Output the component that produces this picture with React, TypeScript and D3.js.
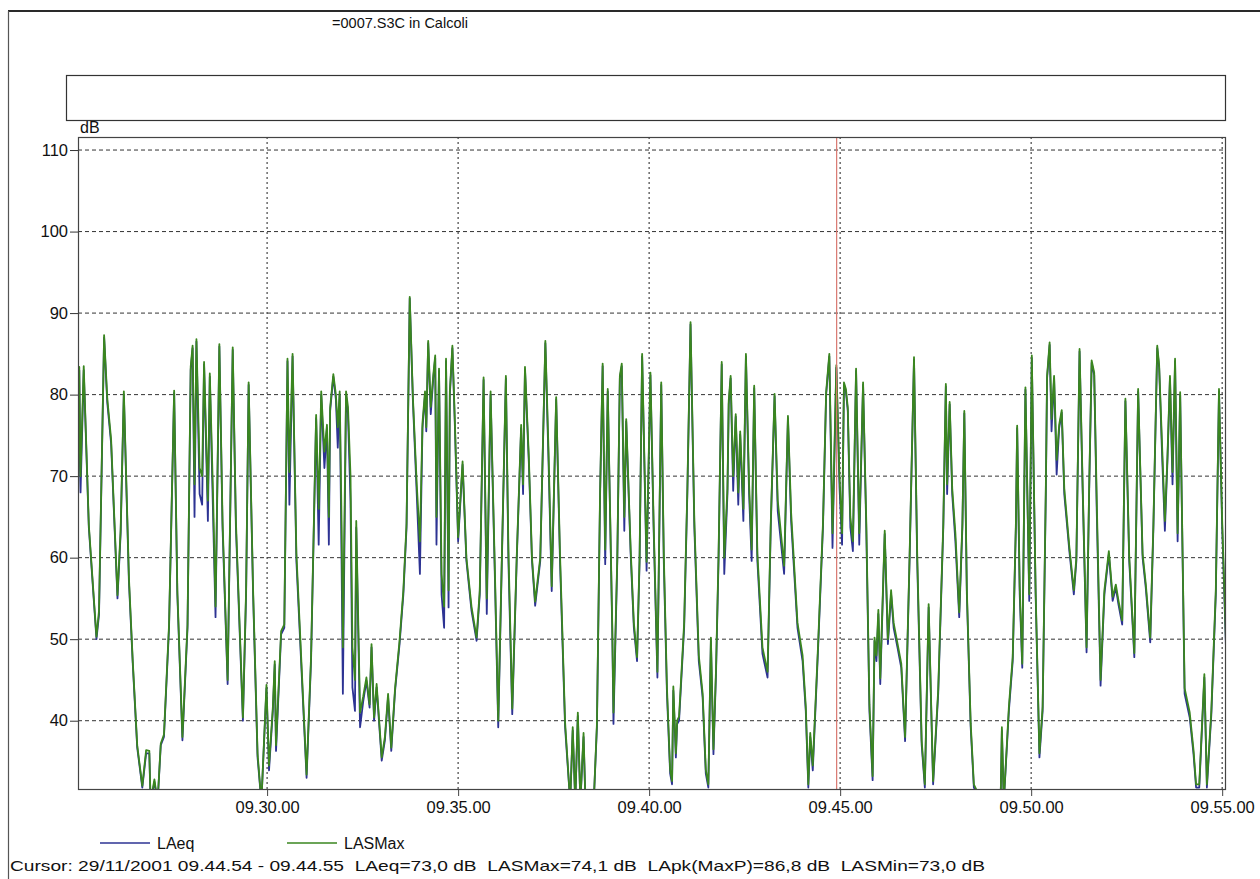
import React, { useEffect, useRef } from 'react';
import * as d3 from 'd3';

// seconds after 09.25.00 on 29/11/2001
const secs = [
  3, 5, 7, 12, 20, 32, 36, 44, 49, 55,
  65, 70, 75, 83, 89, 96, 104, 110, 115, 117,
  123, 128, 133, 138, 146, 154, 159, 167, 175, 180,
  183, 186, 189, 194, 198, 201, 207, 210, 215, 219,
  225, 230, 238, 246, 251, 262, 267, 271, 278, 285,
  291, 299, 303, 309, 312, 314, 322, 327, 332, 335,
  340, 346, 362, 369, 377, 381, 385, 390, 394, 397,
  399, 404, 408, 411, 414, 417, 419, 424, 427, 431,
  434, 438, 440, 446, 451, 456, 461, 464, 468, 472,
  480, 485, 490, 495, 501, 508, 514, 519, 524, 529,
  535, 540, 544, 548, 550, 553, 557, 561, 564, 566,
  570, 574, 578, 581, 585, 587, 591, 595, 600, 607,
  613, 621, 629, 634, 640, 645, 651, 658, 663, 671,
  675, 679, 685, 692, 699, 702, 705, 711, 716, 721,
  729, 737, 742, 747, 754, 760, 768, 776, 780, 784,
  788, 792, 797, 800, 813, 818, 823, 827, 831, 835,
  842, 844, 850, 854, 857, 861, 864, 871, 876, 881,
  885, 889, 896, 902, 907, 913, 919, 923, 928, 933,
  936, 938, 942, 944, 947, 955, 960, 965, 971, 978,
  984, 989, 993, 997, 1001, 1005, 1009, 1014, 1018, 1023,
  1025, 1028, 1032, 1036, 1040, 1043, 1048, 1052, 1057, 1061,
  1065, 1070, 1078, 1086, 1091, 1097, 1102, 1112, 1118, 1123,
  1133, 1141, 1146, 1150, 1153, 1157, 1165, 1173, 1178, 1183,
  1188, 1194, 1199, 1203, 1206, 1209, 1212, 1216, 1220, 1225,
  1230, 1236, 1241, 1246, 1251, 1254, 1257, 1260, 1263, 1270,
  1275, 1280, 1284, 1290, 1296, 1302, 1309, 1316, 1321, 1328,
  1333, 1339, 1346, 1354, 1362, 1366, 1368, 1372, 1376, 1381,
  1387, 1392, 1395, 1399, 1405, 1410, 1423, 1452, 1454, 1457,
  1465, 1471, 1476, 1478, 1482, 1486, 1491, 1497, 1501, 1507,
  1513, 1518, 1523, 1525, 1529, 1532, 1536, 1540, 1544, 1548,
  1552, 1560, 1567, 1571, 1576, 1581, 1587, 1591, 1595, 1599,
  1603, 1609, 1615, 1622, 1628, 1633, 1637, 1643, 1648, 1654,
  1662, 1668, 1675, 1680, 1687, 1692, 1698, 1701, 1706, 1710,
  1714, 1718, 1722, 1726, 1730, 1734, 1741, 1749, 1755, 1759,
  1764, 1772, 1776, 1783, 1790, 1795, 1800, 1805, 1811, 1813,
];

const laeq = [
  66, 83, 68, 83, 63.7, 50, 53, 87, 79, 74,
  55, 63, 80, 57, 47, 36.7, 31.8, 36, 36, 30,
  32.5, 30, 37, 38, 51.4, 80.2, 55.5, 37.6, 51.4, 83,
  85.7, 65, 86.5, 67.8, 66.5, 83.7, 64.5, 82.2, 65.7, 52.7,
  85.9, 63.7, 44.5, 85.5, 63.7, 40, 55.5, 81.2, 55.5, 35.5,
  30, 44, 33.9, 41.2, 46.9, 36.3, 50.6, 51.4, 84.1, 66.5,
  84.7, 59.6, 33, 47.3, 77.1, 61.6, 80, 71, 75.9, 61.6,
  78, 82.2, 79.4, 73.5, 80, 59.2, 43.3, 80, 77.6, 66.9,
  44.1, 41.2, 63.7, 39.2, 42.4, 44.9, 41.6, 49, 40, 44.1,
  35.1, 37.6, 42.9, 36.3, 43.7, 49.4, 55.5, 63.7, 91.8, 79.2,
  67.8, 58, 75.9, 80, 75.5, 86.3, 77.6, 82, 84.5, 61.6,
  82.9, 55.5, 51.4, 84.1, 53.9, 80, 85.7, 75.9, 62, 71.4,
  59.6, 53.5, 49.8, 55.5, 81.8, 53.1, 80, 56.7, 39.2, 67.8,
  82, 59.6, 40.8, 59.6, 75.9, 67.8, 83.1, 71.8, 59.6, 54.1,
  59.6, 86.3, 71.8, 55.9, 79.4, 59.6, 39.2, 30, 38.8, 30,
  40.6, 30, 38, 30, 30, 39.2, 67.8, 83.5, 59.2, 80.4,
  51.4, 39.6, 59.6, 82, 83.5, 63.3, 76.7, 60.4, 51.4, 47.3,
  59.6, 84.7, 58.4, 82.4, 63.7, 45.3, 81.2, 59.6, 43.3, 33.5,
  32.2, 43.7, 35.5, 39.6, 40, 51.4, 67.8, 88.6, 63.7, 47.3,
  42.9, 33.5, 31.8, 49.8, 35.9, 45.7, 59.6, 83.7, 58, 67.8,
  78.8, 82, 68.2, 77.3, 66.5, 75.1, 64.5, 84.7, 67.8, 59.6,
  80.8, 59.6, 48.2, 45.3, 63.7, 79.8, 65.7, 58, 77.1, 64.5,
  51.4, 47.3, 41.2, 31.8, 38, 33.9, 48.2, 63.7, 80, 84.7,
  61.2, 83.3, 68.6, 61.6, 81.2, 80.4, 78, 63.7, 60.8, 82.9,
  61.6, 81.2, 63.7, 41.2, 32.7, 49.8, 47.3, 53.1, 44.5, 62.9,
  49.4, 55.5, 51.4, 49, 46.5, 37.5, 59.6, 84.3, 59.6, 37.1,
  31.8, 53.9, 32.2, 43.3, 63.7, 81, 67.8, 78.8, 67.8, 62,
  52.7, 63.7, 77.7, 55.5, 39.2, 31.8, 30, 30, 38.8, 30,
  41.2, 47.3, 63.7, 75.9, 55.5, 46.5, 80.6, 54.7, 84.5, 55.5,
  35.5, 41.2, 67.8, 82, 86.1, 75.5, 82, 70.2, 75.9, 77.8,
  67.8, 60.8, 55.5, 59.6, 85.3, 67.8, 48.4, 67.8, 83.9, 82.4,
  65.7, 44.3, 55.5, 60.4, 54.7, 56.3, 54.3, 51.8, 79.2, 59.6,
  47.8, 80.4, 60, 56.3, 49.6, 63.7, 85.7, 83.3, 71.8, 63.3,
  71.8, 82, 69, 84.1, 62, 80, 43.3, 40.4, 35.9, 31.8,
  31.8, 45.3, 31.8, 40.8, 55.5, 80.4, 63.7, 51.4, 35.9, 33.5,
];

const lasmax = [
  66.5, 83.4, 70, 83.5, 64, 50.3, 53.5, 87.3, 79.5, 74.5,
  55.4, 63.5, 80.4, 57.5, 47.3, 37, 32, 36.4, 36.3, 30,
  32.8, 30, 37.2, 38.3, 51.8, 80.5, 56, 38, 51.8, 83.4,
  86, 69, 86.8, 71, 70, 84, 67, 82.6, 68, 54,
  86.2, 64.5, 45, 85.8, 64.5, 40.4, 56, 81.5, 56, 36,
  30, 44.4, 34.5, 41.6, 47.3, 37, 51, 51.8, 84.4, 70.5,
  85, 60.5, 33.4, 47.8, 77.5, 66, 80.4, 73, 76.3, 65,
  78.4, 82.5, 80, 76, 80.4, 64, 49, 80.4, 78.5, 70,
  49, 45, 64.5, 41, 43, 45.3, 42, 49.4, 40.4, 44.5,
  35.5, 38, 43.3, 36.7, 44, 49.8, 56, 64.2, 92, 79.6,
  69, 62, 76.5, 80.4, 76, 86.6, 78.5, 82.4, 84.8, 65,
  83.2, 58, 54, 84.4, 56, 80.4, 86, 76.5, 62.5, 71.8,
  60, 54, 50.2, 56, 82.1, 55, 80.4, 57.5, 40, 68.3,
  82.3, 61, 41.5, 60, 76.3, 69, 83.4, 72.5, 60, 54.6,
  60, 86.6, 73, 56.5, 79.7, 60.5, 39.8, 30, 39.2, 30,
  41, 30, 38.5, 30, 30, 39.6, 68.3, 83.8, 61, 80.7,
  52, 41, 60, 82.3, 83.8, 65, 77, 61, 52, 47.8,
  60, 85, 59.5, 82.7, 64.5, 46, 81.5, 60.5, 44, 34,
  32.6, 44.2, 36, 40, 40.5, 52, 68.3, 88.9, 64.5, 48,
  43.4, 34, 32.2, 50.2, 36.5, 46.2, 60.2, 84, 60, 68.5,
  79.2, 82.3, 70, 77.6, 68, 75.5, 66, 85, 69, 61,
  81.1, 60.5, 49, 46, 64.2, 80.1, 67, 59, 77.4, 65.5,
  52, 48, 41.8, 32.2, 38.5, 34.5, 48.7, 64.2, 80.3, 85,
  63, 83.6, 70, 63, 81.5, 80.7, 78.4, 65, 62, 83.2,
  63, 81.5, 64.5, 42, 33.2, 50.2, 48, 53.6, 45.2, 63.3,
  50, 56, 52, 49.5, 47, 38, 60, 84.6, 60.5, 37.6,
  32.2, 54.3, 32.6, 43.8, 64.2, 81.3, 69, 79.1, 68.5, 63,
  53.3, 64.2, 78, 56, 39.7, 32.2, 30, 30, 39.2, 30,
  41.7, 47.8, 64.2, 76.2, 56.5, 47, 80.9, 55.5, 84.8, 56,
  36, 41.7, 68.3, 82.3, 86.4, 77, 82.3, 72, 76.3, 78.1,
  68.5, 61.3, 56, 60, 85.6, 68.5, 49, 68.3, 84.2, 82.7,
  67, 45, 56, 60.8, 55.2, 56.7, 54.8, 52.3, 79.5, 60.2,
  48.3, 80.7, 60.5, 56.8, 50.2, 64.2, 86, 83.6, 73, 64.5,
  72.3, 82.3, 70.5, 84.4, 63, 80.3, 44, 41, 36.4, 32.2,
  32.2, 45.7, 32.2, 41.3, 56, 80.7, 64.5, 52, 36.4, 34,
];

const yTicks = [40, 50, 60, 70, 80, 90, 100, 110];
const xTickSecs = [300, 600, 900, 1200, 1500, 1800];
const seriesNames = ['LAeq', 'LASMax'];
const seriesColors = ['#2d3393', '#3a861f'];
const cursorSec = 1194.5;
const title = '=0007.S3C in Calcoli';
const cursorText =
  'Cursor: 29/11/2001 09.44.54 - 09.44.55  LAeq=73,0 dB  LASMax=74,1 dB  LApk(MaxP)=86,8 dB  LASMin=73,0 dB';

function App() {
  const svgRef = useRef<SVGSVGElement>(null);

  useEffect(() => {
    const W = 1260, H = 879;
    const left = 78, right = 1226, top = 137, bottom = 790;
    const font = "'Liberation Sans', Arial, sans-serif";

    const svg = d3.select(svgRef.current)
      .attr('width', W)
      .attr('height', H)
      .style('background', '#fff')
      .style('font-family', font);
    svg.selectAll('*').remove();

    const base = new Date(2001, 10, 29, 9, 25, 0).getTime();
    const toDate = (s: number) => new Date(base + s * 1000);

    const x = d3.scaleTime()
      .domain([toDate(3), toDate(1806)])
      .range([left, right]);
    const y = d3.scaleLinear()
      .domain([31.5, 111.6])
      .range([bottom, top]);

    // outer frame
    svg.append('line')
      .attr('x1', 8).attr('x2', W).attr('y1', 11).attr('y2', 11)
      .attr('stroke', '#2a2a2a').attr('stroke-width', 2);
    svg.append('line')
      .attr('x1', 8.5).attr('x2', 8.5).attr('y1', 11).attr('y2', H)
      .attr('stroke', '#555').attr('stroke-width', 1.2);

    svg.append('text')
      .attr('x', 400).attr('y', 28)
      .attr('text-anchor', 'middle')
      .attr('font-size', 14.5)
      .attr('fill', '#111')
      .text(title);

    // empty header box
    svg.append('rect')
      .attr('x', 66.5).attr('y', 75.5).attr('width', 1159).attr('height', 45)
      .attr('fill', 'none').attr('stroke', '#333').attr('stroke-width', 1.2);

    svg.append('text')
      .attr('x', 80).attr('y', 133)
      .attr('font-size', 16)
      .attr('fill', '#111')
      .text('dB');

    // grid
    svg.append('g')
      .selectAll('line')
      .data(yTicks)
      .enter()
      .append('line')
      .attr('x1', left).attr('x2', right)
      .attr('y1', d => y(d)).attr('y2', d => y(d))
      .attr('stroke', '#333').attr('stroke-width', 1)
      .attr('stroke-dasharray', '4,3');

    svg.append('g')
      .selectAll('line')
      .data(xTickSecs)
      .enter()
      .append('line')
      .attr('x1', d => x(toDate(d))).attr('x2', d => x(toDate(d)))
      .attr('y1', top).attr('y2', bottom)
      .attr('stroke', '#444').attr('stroke-width', 1.2)
      .attr('stroke-dasharray', '2,3');

    // axes
    const yAxis = d3.axisLeft(y)
      .tickValues(yTicks)
      .tickSize(8)
      .tickPadding(2)
      .tickFormat(d3.format('d'));
    const gy = svg.append('g')
      .attr('transform', `translate(${left},0)`)
      .call(yAxis);
    gy.select('.domain').remove();
    gy.selectAll('text').attr('font-size', 16.5).attr('font-family', font).attr('fill', '#111');
    gy.selectAll('line').attr('stroke', '#333');

    const xAxis = d3.axisBottom(x)
      .tickValues(xTickSecs.map(toDate))
      .tickSize(6)
      .tickPadding(5)
      .tickFormat(d => d3.timeFormat('%H.%M.%S')(d as Date));
    const gx = svg.append('g')
      .attr('transform', `translate(0,${bottom})`)
      .call(xAxis);
    gx.select('.domain').remove();
    gx.selectAll('text').attr('font-size', 16.5).attr('font-family', font).attr('fill', '#111');
    gx.selectAll('line').attr('stroke', '#444');

    // series
    svg.append('clipPath').attr('id', 'plot-clip')
      .append('rect')
      .attr('x', left).attr('y', top)
      .attr('width', right - left).attr('height', bottom - top);

    const line = d3.line<number>()
      .x((d, i) => x(toDate(secs[i])))
      .y(d => y(d));

    [laeq, lasmax].forEach((vals, k) => {
      svg.append('path')
        .datum(vals)
        .attr('clip-path', 'url(#plot-clip)')
        .attr('fill', 'none')
        .attr('stroke', seriesColors[k])
        .attr('stroke-width', 1.8)
        .attr('stroke-linejoin', 'round')
        .attr('d', line);
    });

    // cursor
    svg.append('line')
      .attr('x1', x(toDate(cursorSec))).attr('x2', x(toDate(cursorSec)))
      .attr('y1', top).attr('y2', bottom)
      .attr('stroke', '#d9776f').attr('stroke-width', 1.2);

    // plot frame
    svg.append('rect')
      .attr('x', left + 0.5).attr('y', top + 0.5)
      .attr('width', right - left - 1).attr('height', bottom - top - 1)
      .attr('fill', 'none').attr('stroke', '#444').attr('stroke-width', 1.2);

    // legend
    const legendX = [100, 287];
    const lg = svg.append('g');
    seriesNames.forEach((name, k) => {
      lg.append('line')
        .attr('x1', legendX[k]).attr('x2', legendX[k] + 50)
        .attr('y1', 843).attr('y2', 843)
        .attr('stroke', seriesColors[k]).attr('stroke-width', 1.4);
      lg.append('text')
        .attr('x', legendX[k] + 57).attr('y', 849)
        .attr('font-size', 16).attr('fill', '#111')
        .text(name);
    });

    svg.append('text')
      .attr('x', 10).attr('y', 871)
      .attr('font-size', 15)
      .attr('fill', '#111')
      .style('white-space', 'pre')
      .attr('textLength', 975)
      .attr('lengthAdjust', 'spacingAndGlyphs')
      .text(cursorText);
  }, []);

  return (
    <div style={{ position: 'absolute', left: 0, top: 0 }}>
      <svg ref={svgRef}></svg>
    </div>
  );
}

export default App;
